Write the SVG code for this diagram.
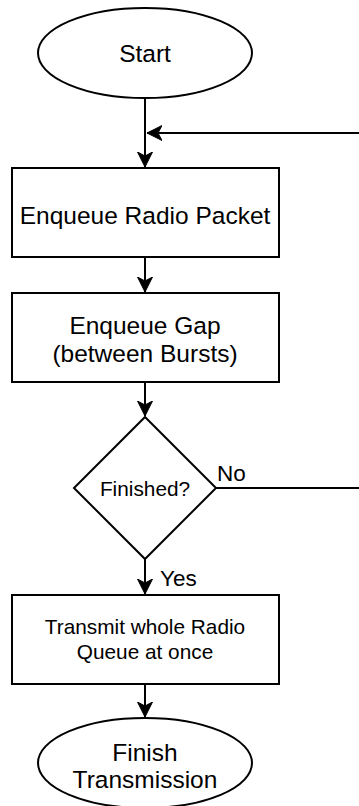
<svg xmlns="http://www.w3.org/2000/svg" width="359" height="806" viewBox="0 0 359 806">
  <style>
    .shape { fill: #ffffff; stroke: #000000; stroke-width: 2; }
    .edge { fill: none; stroke: #000000; stroke-width: 2; }
    text { font-family: "Liberation Sans", Arial, Helvetica, sans-serif; fill: #000000; text-anchor: middle; }
    .big { font-size: 24.5px; }
    .mid { font-size: 20.8px; }
    .lbl { font-size: 22.5px; text-anchor: start; }
  </style>
  <defs>
    <marker id="arrow" markerUnits="userSpaceOnUse" markerWidth="16" markerHeight="16" viewBox="0 0 16 16" refX="15" refY="8" orient="auto">
      <path d="M15,8 L0,0.5 L4,8 L0,15.5 Z" fill="#000000" stroke="#000000" stroke-width="1"/>
    </marker>
  </defs>

  <g id="connectors">
    <path class="edge" d="M145,98 L145,167" marker-end="url(#arrow)"/>
    <path class="edge" d="M216,488 L372,488 L372,133 L147,133" marker-end="url(#arrow)"/>
    <path class="edge" d="M145,257 L145,292" marker-end="url(#arrow)"/>
    <path class="edge" d="M145,382 L145,416" marker-end="url(#arrow)"/>
    <path class="edge" d="M145,559 L145,594" marker-end="url(#arrow)"/>
    <path class="edge" d="M145,684 L145,717" marker-end="url(#arrow)"/>
    <text class="lbl" x="217" y="481">No</text>
    <text class="lbl" x="160" y="586">Yes</text>
  </g>

  <g id="start">
    <ellipse class="shape" cx="145" cy="53" rx="107" ry="45"/>
    <text class="big" x="145" y="62">Start</text>
  </g>

  <g id="enqueue-packet">
    <rect class="shape" x="12" y="168" width="267" height="89"/>
    <text class="big" x="145" y="224">Enqueue Radio Packet</text>
  </g>

  <g id="enqueue-gap">
    <rect class="shape" x="12" y="293" width="267" height="89"/>
    <text class="big" x="145" y="334">Enqueue Gap</text>
    <text class="big" x="145" y="362">(between Bursts)</text>
  </g>

  <g id="finished">
    <polygon class="shape" points="145,417 216,488 145,559 74,488"/>
    <text class="mid" x="145" y="496">Finished?</text>
  </g>

  <g id="transmit">
    <rect class="shape" x="12" y="595" width="267" height="89"/>
    <text class="mid" x="145" y="634">Transmit whole Radio</text>
    <text class="mid" x="145" y="659">Queue at once</text>
  </g>

  <g id="finish">
    <ellipse class="shape" cx="145" cy="763" rx="107" ry="45"/>
    <text class="big" x="145" y="761">Finish</text>
    <text class="big" x="145" y="788">Transmission</text>
  </g>
</svg>
